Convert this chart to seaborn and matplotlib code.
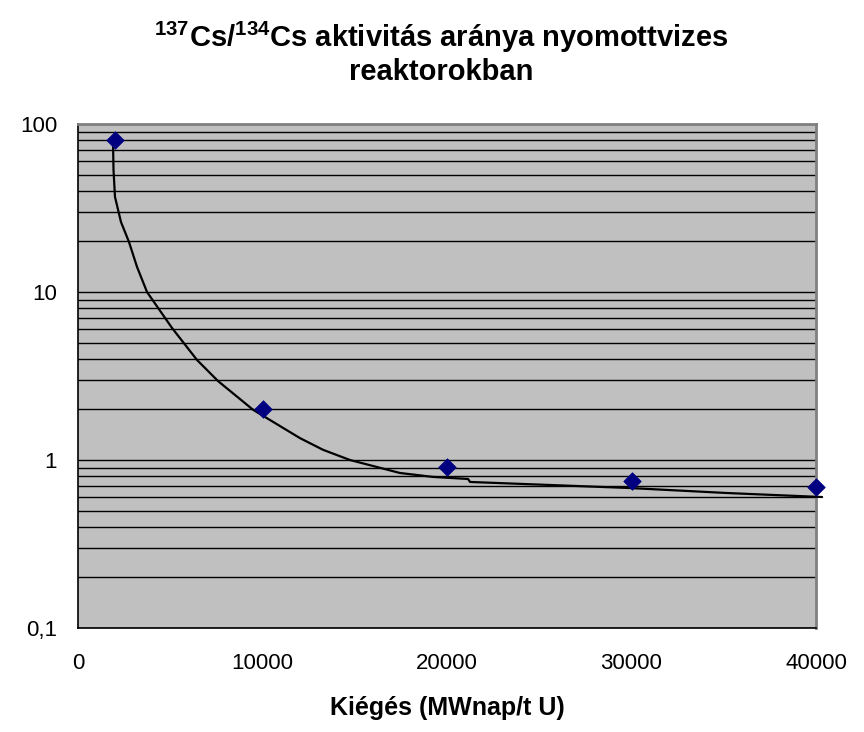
import matplotlib
matplotlib.use("Agg")
import matplotlib.pyplot as plt
import seaborn as sns
import pandas as pd
import numpy as np
from matplotlib.ticker import LogLocator, FixedLocator, FuncFormatter

# Measured points
burnup = [2000, 10000, 20000, 30000, 40000]
ratio = [80, 2.0, 0.91, 0.75, 0.69]

# Trend curve
curve_x = [1900, 1925, 2005, 2330, 2760, 3200, 3740, 5100, 6450, 7590, 9490,
           12030, 13280, 14740, 17450, 19240, 21140, 21250, 25580, 29920, 35180, 40330]
curve_y = [75, 53.2, 36.8, 26.1, 19.9, 14.1, 10.0, 6.1, 3.94, 2.95, 1.99,
           1.35, 1.15, 1.0, 0.837, 0.793, 0.771, 0.740, 0.71, 0.681, 0.636, 0.602]

x_ticks = [0, 10000, 20000, 30000, 40000]
y_ticks = [0.1, 1, 10, 100]
y_tick_labels = ["0,1", "1", "10", "100"]

title = r"$^{137}$Cs/$^{134}$Cs aktivitás aránya nyomottvizes" + "\nreaktorokban"
xlabel = "Kiégés (MWnap/t U)"

sns.set_style("white")
plt.rcParams['font.family'] = ['Liberation Sans', 'DejaVu Sans']
plt.rcParams['mathtext.fontset'] = 'custom'
plt.rcParams['mathtext.rm'] = 'Liberation Sans:bold'
plt.rcParams['mathtext.it'] = 'Liberation Sans:bold'
plt.rcParams['mathtext.bf'] = 'Liberation Sans:bold'
for k in ['text.color', 'axes.labelcolor', 'xtick.color', 'ytick.color']:
    plt.rcParams[k] = 'black'

fig = plt.figure(figsize=(8.64, 7.32), dpi=100)
ax = fig.add_axes([78/864, 1-628/732, (816-78)/864, (628-124)/732])
ax.set_facecolor("#C0C0C0")

ax.set_yscale("log")
ax.set_ylim(0.1, 100)
ax.set_xlim(0, 40000)

ax.yaxis.set_major_locator(FixedLocator(y_ticks))
ax.yaxis.set_minor_locator(LogLocator(base=10, subs=np.arange(2, 10)))
ax.yaxis.set_minor_formatter(FuncFormatter(lambda v, p: ""))
ax.set_yticklabels(y_tick_labels)
ax.grid(True, axis="y", which="both", color="black", linewidth=1.0)
ax.grid(False, axis="x")
ax.set_axisbelow(True)

df_c = pd.DataFrame({"x": curve_x, "y": curve_y})
sns.lineplot(data=df_c, x="x", y="y", sort=False, estimator=None,
             color="black", linewidth=1.6, ax=ax, zorder=3, clip_on=False)

df_p = pd.DataFrame({"x": burnup, "y": ratio})
sns.scatterplot(data=df_p, x="x", y="y", marker="D", s=80, color="#000080",
                edgecolor="#000080", linewidth=0.5, ax=ax, zorder=4, clip_on=False)

ax.set_xticks(x_ticks)
ax.set_xticklabels([str(v) for v in x_ticks])
ax.tick_params(axis="x", which="major", direction="inout", length=12, width=1,
               labelsize=16, pad=12, colors="black")
ax.tick_params(axis="y", which="major", direction="out", length=7, width=1,
               labelsize=16, pad=8, colors="black")
ax.tick_params(axis="y", which="minor", length=0)

for s in ["left", "bottom"]:
    ax.spines[s].set_color("black")
    ax.spines[s].set_linewidth(1.2)
for s in ["top", "right"]:
    ax.spines[s].set_color("#808080")
    ax.spines[s].set_linewidth(2)

ax.set_xlabel(xlabel, fontsize=18, fontweight="bold", labelpad=16, color="black")
ax.set_ylabel("")
fig.text(441/864, 1-53/732, title, ha="center", va="center",
         fontsize=21, fontweight="bold", linespacing=1.15, color="black")

fig.savefig("out.png", dpi=100)
